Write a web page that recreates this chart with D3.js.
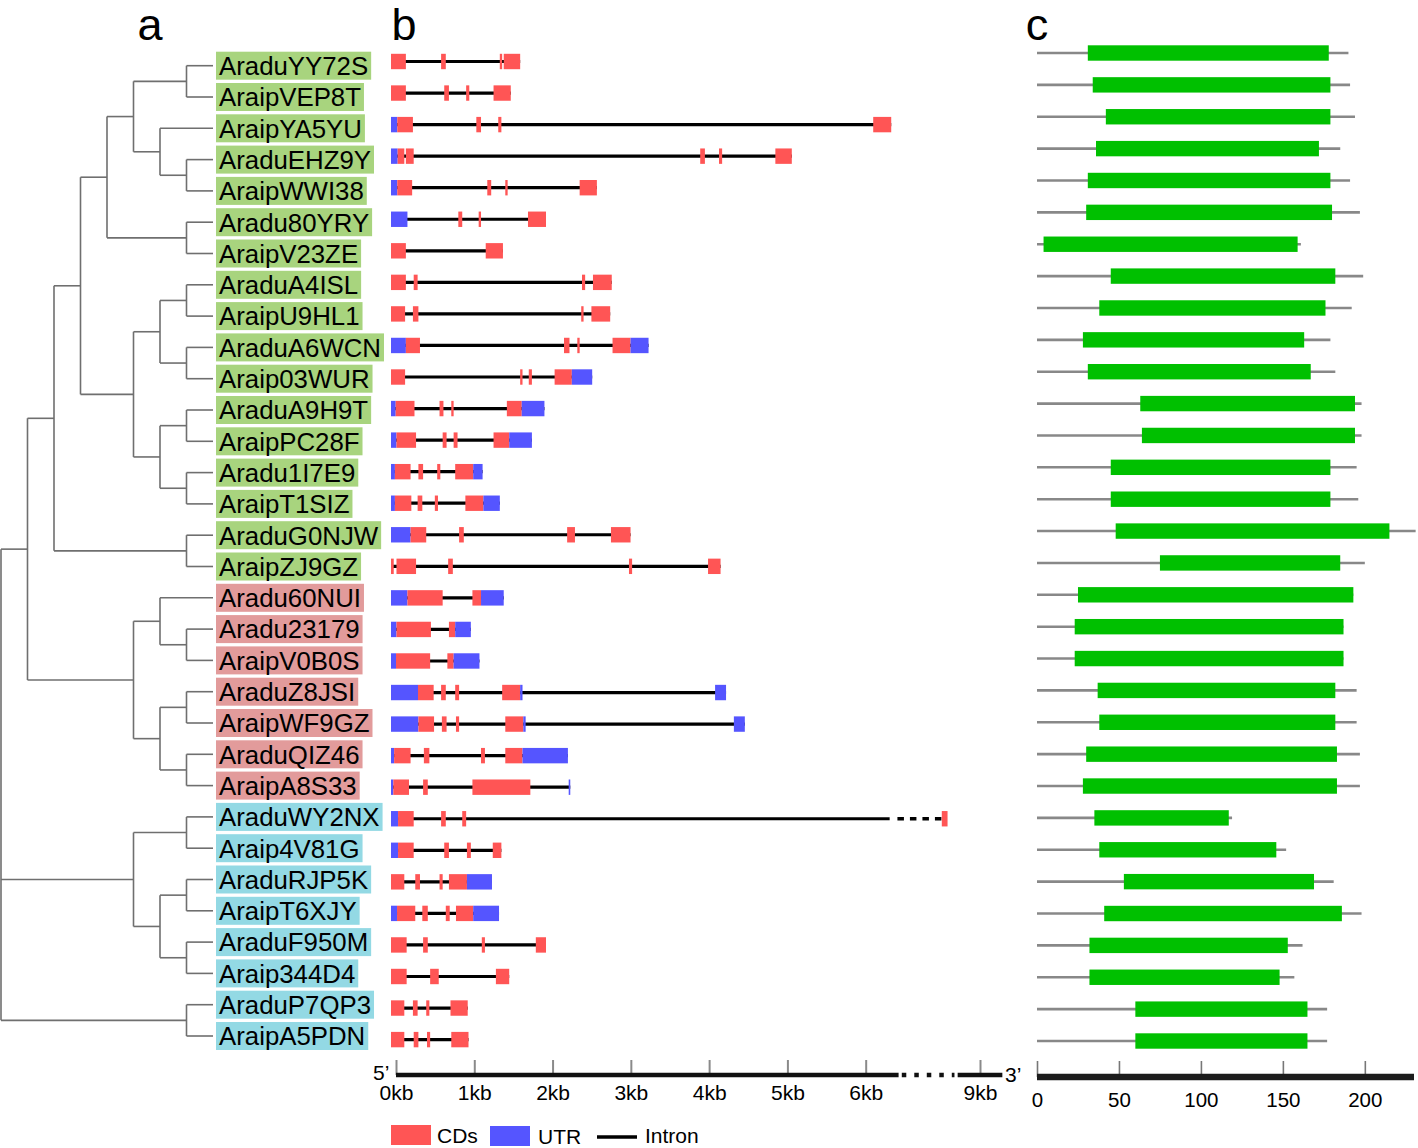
<!DOCTYPE html>
<html><head><meta charset="utf-8">
<script src="https://cdn.jsdelivr.net/npm/d3@7"></script>
<style>
body{margin:0;background:#fff}
svg{display:block}
text{font-family:"Liberation Sans",Arial,Helvetica,sans-serif;fill:#000}
</style>
</head><body>
<svg id="chart" width="1418" height="1148"></svg>
<script>
// ---------------- DATA ----------------
const genes = ["AraduYY72S","AraipVEP8T","AraipYA5YU","AraduEHZ9Y","AraipWWI38","Aradu80YRY","AraipV23ZE",
  "AraduA4ISL","AraipU9HL1","AraduA6WCN","Araip03WUR","AraduA9H9T","AraipPC28F","Aradu1I7E9","AraipT1SIZ",
  "AraduG0NJW","AraipZJ9GZ","Aradu60NUI","Aradu23179","AraipV0B0S","AraduZ8JSI","AraipWF9GZ","AraduQIZ46",
  "AraipA8S33","AraduWY2NX","Araip4V81G","AraduRJP5K","AraipT6XJY","AraduF950M","Araip344D4","AraduP7QP3","AraipA5PDN"];

const groups = ["I","I","I","I","I","I","I","I","I","I","I","I","I","I","I","I","I",
  "II","II","II","II","II","II","II",
  "III","III","III","III","III","III","III","III"];

// tree topology (leaf = gene index)
const tree = [
  [
    [
      [
        [[[0,1],[2,[3,4]]],[5,6]],
        [[[7,8],[9,10]],[[11,12],[13,14]]]
      ],
      [15,16]
    ],
    [[17,[18,19]],[[20,21],[22,23]]]
  ],
  [[24,25],[[26,27],[28,29]]],
  [30,31]
];

// gene structures: [start kb, end kb, type]  C = CDs, U = UTR
const structures = [
  [[0,0.19,"C"],[0.64,0.70,"C"],[1.39,1.42,"C"],[1.44,1.65,"C"]],
  [[0,0.19,"C"],[0.68,0.74,"C"],[0.96,1.00,"C"],[1.31,1.53,"C"]],
  [[0,0.08,"U"],[0.08,0.28,"C"],[1.09,1.15,"C"],[1.37,1.41,"C"],[6.16,6.39,"C"]],
  [[0,0.085,"U"],[0.085,0.17,"C"],[0.19,0.29,"C"],[3.95,4.01,"C"],[4.19,4.23,"C"],[4.91,5.12,"C"]],
  [[0,0.08,"U"],[0.08,0.27,"C"],[1.23,1.28,"C"],[1.46,1.49,"C"],[2.41,2.63,"C"]],
  [[0,0.21,"U"],[0.86,0.91,"C"],[1.12,1.15,"C"],[1.75,1.98,"C"]],
  [[0,0.19,"C"],[1.21,1.43,"C"]],
  [[0,0.19,"C"],[0.29,0.34,"C"],[2.44,2.48,"C"],[2.58,2.82,"C"]],
  [[0,0.18,"C"],[0.28,0.35,"C"],[2.43,2.46,"C"],[2.56,2.80,"C"]],
  [[0,0.19,"U"],[0.19,0.37,"C"],[2.21,2.28,"C"],[2.38,2.41,"C"],[2.83,3.06,"C"],[3.06,3.29,"U"]],
  [[0,0.18,"C"],[1.65,1.68,"C"],[1.76,1.80,"C"],[2.09,2.31,"C"],[2.31,2.57,"U"]],
  [[0,0.06,"U"],[0.06,0.30,"C"],[0.62,0.67,"C"],[0.77,0.80,"C"],[1.48,1.67,"C"],[1.67,1.96,"U"]],
  [[0,0.07,"U"],[0.07,0.32,"C"],[0.66,0.71,"C"],[0.80,0.85,"C"],[1.31,1.51,"C"],[1.51,1.80,"U"]],
  [[0,0.05,"U"],[0.05,0.25,"C"],[0.35,0.41,"C"],[0.59,0.63,"C"],[0.82,1.05,"C"],[1.05,1.17,"U"]],
  [[0,0.05,"U"],[0.05,0.26,"C"],[0.34,0.40,"C"],[0.56,0.60,"C"],[0.95,1.18,"C"],[1.18,1.39,"U"]],
  [[0,0.25,"U"],[0.25,0.45,"C"],[0.87,0.93,"C"],[2.25,2.35,"C"],[2.81,3.06,"C"]],
  [[0,0.035,"C"],[0.07,0.32,"C"],[0.73,0.79,"C"],[3.04,3.08,"C"],[4.05,4.21,"C"]],
  [[0,0.21,"U"],[0.21,0.66,"C"],[1.04,1.15,"C"],[1.15,1.44,"U"]],
  [[0,0.07,"U"],[0.07,0.51,"C"],[0.74,0.82,"C"],[0.82,1.02,"U"]],
  [[0,0.064,"U"],[0.064,0.50,"C"],[0.72,0.80,"C"],[0.80,1.13,"U"]],
  [[0,0.345,"U"],[0.345,0.545,"C"],[0.64,0.70,"C"],[0.82,0.87,"C"],[1.42,1.65,"C"],[1.65,1.68,"U"],[4.14,4.28,"U"]],
  [[0,0.35,"U"],[0.35,0.55,"C"],[0.65,0.71,"C"],[0.83,0.87,"C"],[1.46,1.69,"C"],[1.69,1.72,"U"],[4.38,4.52,"U"]],
  [[0,0.04,"U"],[0.04,0.25,"C"],[0.42,0.49,"C"],[1.15,1.20,"C"],[1.46,1.68,"C"],[1.68,2.26,"U"]],
  [[0,0.03,"U"],[0.03,0.23,"C"],[0.41,0.47,"C"],[1.04,1.78,"C"],[2.27,2.29,"U"]],
  [[0,0.09,"U"],[0.09,0.29,"C"],[0.64,0.70,"C"],[0.91,0.96,"C"],[7.96,8.14,"C"]],
  [[0,0.09,"U"],[0.09,0.29,"C"],[0.68,0.74,"C"],[0.97,1.02,"C"],[1.30,1.41,"C"]],
  [[0,0.17,"C"],[0.31,0.37,"C"],[0.62,0.66,"C"],[0.74,0.97,"C"],[0.97,1.29,"U"]],
  [[0,0.077,"U"],[0.077,0.31,"C"],[0.40,0.47,"C"],[0.70,0.75,"C"],[0.83,1.05,"C"],[1.05,1.38,"U"]],
  [[0,0.20,"C"],[0.41,0.47,"C"],[1.16,1.20,"C"],[1.85,1.98,"C"]],
  [[0,0.20,"C"],[0.50,0.61,"C"],[1.34,1.51,"C"]],
  [[0,0.17,"C"],[0.28,0.34,"C"],[0.45,0.49,"C"],[0.76,0.98,"C"]],
  [[0,0.17,"C"],[0.29,0.35,"C"],[0.46,0.50,"C"],[0.77,0.99,"C"]]
];

// protein (aa): total length, domain start, domain end
const proteinLength = [190,191,194,185,191,197,161,199,192,179,182,198,198,195,196,231,200,193,187,187,195,195,197,197,119,152,181,198,162,157,177,177];
const domainStart   = [31,34,42,36,31,30,4,45,38,28,31,63,64,45,45,48,75,25,23,23,37,38,30,28,35,38,53,41,32,32,60,60];
const domainEnd     = [178,179,179,172,179,180,159,182,176,163,167,194,194,179,179,215,185,193,187,187,182,182,183,183,117,146,169,186,153,148,165,165];

const kbTicks = [0,1,2,3,4,5,6,9];
const aaTicks = [0,50,100,150,200];
const legendItems = ["CDs","UTR","Intron"];
const panelLetters = ["a","b","c"];

// ---------------- STYLE ----------------
const groupFill = {I:"#a8d47e", II:"#e29b9b", III:"#93d9e4"};
const cdsColor = "#ff5555", utrColor = "#5555ff", domainColor = "#00c000";

const svg = d3.select("#chart");

// ---------------- a: tree ----------------
const root = d3.hierarchy(tree, d => Array.isArray(d) ? d : null);
const nLeaves = genes.length;
const yFirst = 65.7, yLast = 1036, xRoot = 1, xLeaf = 213;
const step = (yLast - yFirst) / (nLeaves - 1);
// d3.cluster pads half a step at each end
d3.cluster().size([step * nLeaves, xLeaf - xRoot]).separation(() => 1)(root);
root.each(n => { n.py = n.x + yFirst - step / 2; n.px = n.y + xRoot; });

const gTree = svg.append("g").attr("fill","none").attr("stroke","#6f6f6f").attr("stroke-width",1.6);
root.descendants().filter(n => n.children).forEach(n => {
  const ys = n.children.map(c => c.py);
  gTree.append("line").attr("x1", n.px).attr("x2", n.px).attr("y1", d3.min(ys)).attr("y2", d3.max(ys));
  n.children.forEach(c => {
    gTree.append("line").attr("x1", n.px).attr("x2", c.px).attr("y1", c.py).attr("y2", c.py);
  });
});

// labels
const leaves = root.leaves();
const gLab = svg.append("g");
leaves.forEach(l => {
  const i = l.data;
  const g = gLab.append("g");
  const rect = g.append("rect").attr("x", 216).attr("y", l.py - 14).attr("height", 28).attr("fill", groupFill[groups[i]]);
  const t = g.append("text").attr("x", 219).attr("y", l.py + 9.3).attr("font-size", 25.8).text(genes[i]);
  rect.attr("width", t.node().getComputedTextLength() + 6);
});

// ---------------- b: gene structure ----------------
const xGene = d3.scaleLinear().domain([0, 6.4, 9]).range([391, 892, 975]);
const xKb = d3.scaleLinear().domain([0, 6.4, 9]).range([396, 897, 980]);
const yGene = d3.scalePoint().domain(genes).range([61.5, 1039.6]);
const breakKb = 6.37;
const boxH = 15.4;

const gGene = svg.append("g");
genes.forEach((name, i) => {
  const segs = structures[i];
  const y = yGene(name);
  const s0 = d3.min(segs, d => d[0]), s1 = d3.max(segs, d => d[1]);
  const lastStart = segs[segs.length - 1][0];
  gGene.append("line").attr("x1", xGene(s0)).attr("x2", xGene(lastStart > breakKb ? breakKb : s1))
    .attr("y1", y).attr("y2", y).attr("stroke", "#000").attr("stroke-width", 3.2);
  if (lastStart > breakKb) {
    gGene.append("line").attr("x1", xGene(breakKb + 0.2)).attr("x2", xGene(lastStart))
      .attr("y1", y).attr("y2", y).attr("stroke", "#000").attr("stroke-width", 3.4)
      .attr("stroke-dasharray", "6.5,6");
  }
  gGene.selectAll(null).data(segs).join("rect")
    .attr("x", d => xGene(d[0])).attr("width", d => Math.max(1.5, xGene(d[1]) - xGene(d[0])))
    .attr("y", y - boxH / 2).attr("height", boxH)
    .attr("fill", d => d[2] === "C" ? cdsColor : utrColor);
});

// axis b
const axisBY = 1075;
const gAxB = svg.append("g").attr("transform", `translate(0,${axisBY})`);
gAxB.call(d3.axisBottom(xKb).tickValues(kbTicks).tickSizeInner(-15).tickSizeOuter(0).tickPadding(10).tickFormat(d => d + "kb"));
gAxB.select(".domain").remove();
gAxB.selectAll(".tick line").attr("stroke", "#8a8a8a").attr("stroke-width", 2);
gAxB.selectAll(".tick text").attr("font-size", 21).attr("font-family", '"Liberation Sans",Arial,sans-serif').attr("fill", "#000");
const axSegs = [[0, 6.45, null], [6.55, 8.2, "4.5,8"], [8.3, 9.7, null]];
axSegs.forEach(s => {
  gAxB.append("line").attr("x1", xKb(s[0])).attr("x2", xKb(s[1])).attr("y1", 0).attr("y2", 0)
    .attr("stroke", "#111").attr("stroke-width", 4.5).attr("stroke-dasharray", s[2]);
});
svg.append("text").attr("x", 373).attr("y", 1080).attr("font-size", 21).text("5\u2019");
svg.append("text").attr("x", 1005).attr("y", 1082).attr("font-size", 21).text("3\u2019");

// legend
const lg = svg.append("g");
lg.append("rect").attr("x", 391).attr("y", 1125).attr("width", 40).attr("height", 20).attr("fill", cdsColor);
lg.append("text").attr("x", 437).attr("y", 1143).attr("font-size", 21).text(legendItems[0]);
lg.append("rect").attr("x", 490).attr("y", 1126).attr("width", 40).attr("height", 20).attr("fill", utrColor);
lg.append("text").attr("x", 538).attr("y", 1144).attr("font-size", 21).text(legendItems[1]);
lg.append("line").attr("x1", 597).attr("x2", 637).attr("y1", 1137).attr("y2", 1137).attr("stroke", "#000").attr("stroke-width", 3.5);
lg.append("text").attr("x", 645).attr("y", 1143).attr("font-size", 21).text(legendItems[2]);

// ---------------- c: protein domains ----------------
const xAA = d3.scaleLinear().domain([0, 230]).range([1037, 1414]);
const yProt = d3.scalePoint().domain(genes).range([53, 1041]);
const gProt = svg.append("g");
genes.forEach((name, i) => {
  const y = yProt(name);
  gProt.append("line").attr("x1", xAA(0)).attr("x2", xAA(proteinLength[i])).attr("y1", y).attr("y2", y)
    .attr("stroke", "#888").attr("stroke-width", 2.6);
  gProt.append("rect").attr("x", xAA(domainStart[i])).attr("width", xAA(domainEnd[i]) - xAA(domainStart[i]))
    .attr("y", y - boxH / 2).attr("height", boxH).attr("fill", domainColor);
});
const axisCY = 1077;
const gAxC = svg.append("g").attr("transform", `translate(0,${axisCY})`);
gAxC.call(d3.axisBottom(xAA).tickValues(aaTicks).tickSizeInner(-16).tickSizeOuter(0).tickPadding(15));
gAxC.select(".domain").remove();
gAxC.selectAll(".tick line").attr("stroke", "#777").attr("stroke-width", 1.6);
gAxC.selectAll(".tick text").attr("font-size", 20.5).attr("font-family", '"Liberation Sans",Arial,sans-serif').attr("fill", "#000");
gAxC.append("line").attr("x1", xAA(0)).attr("x2", xAA(230)).attr("y1", 0).attr("y2", 0)
  .attr("stroke", "#1c1c1c").attr("stroke-width", 6.5);

// panel letters
const letterX = [150, 404, 1037];
panelLetters.forEach((l, i) => {
  svg.append("text").attr("x", letterX[i]).attr("y", 40).attr("text-anchor", "middle")
    .attr("font-family", '"Liberation Serif","Times New Roman",serif').attr("font-size", 45).text(l);
});
</script>
</body></html>
